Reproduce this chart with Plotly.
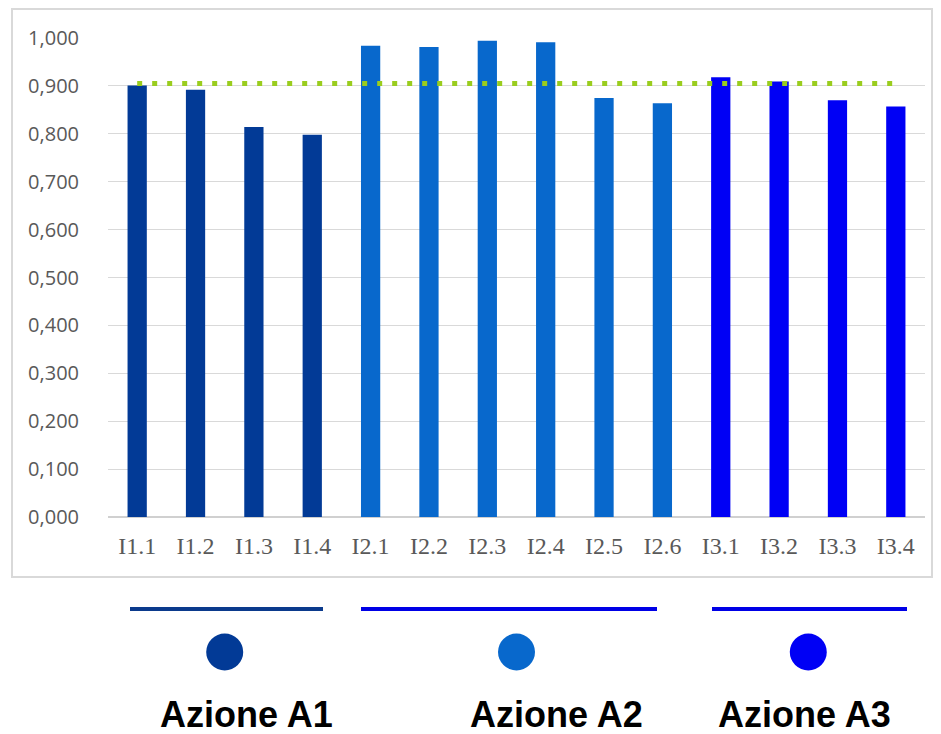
import plotly.graph_objects as go

categories = ["I1.1", "I1.2", "I1.3", "I1.4",
              "I2.1", "I2.2", "I2.3", "I2.4", "I2.5", "I2.6",
              "I3.1", "I3.2", "I3.3", "I3.4"]
values = [0.901, 0.892, 0.814, 0.798,
          0.984, 0.981, 0.994, 0.991, 0.875, 0.864,
          0.918, 0.909, 0.870, 0.857]
threshold = [0.905] * len(categories)

groups = ["Azione A1", "Azione A2", "Azione A3"]
group_sizes = [4, 6, 4]
group_colors = ["#023a96", "#0868cc", "#0000f5"]
group_line_colors = ["#0b3a8c", "#0000e6", "#0000e6"]

W, H = 941, 734
L, R, T, B = 108, 16, 38, 217
PW, PH = W - L - R, H - T - B


def px(x):
    return (x - L) / PW


def py(y):
    return (H - B - y) / PH


bar_colors = []
for c, n in zip(group_colors, group_sizes):
    bar_colors += [c] * n

fig = go.Figure()
fig.add_trace(go.Bar(x=categories, y=values, marker_color=bar_colors,
                     marker_line_width=0, width=0.33, hoverinfo="skip"))
fig.add_trace(go.Scatter(x=categories, y=threshold, mode="lines",
                         line=dict(color="#9acd1e", width=5, dash="5px,10px"),
                         hoverinfo="skip"))

shapes = []
annotations = []
# chart frame
shapes.append(dict(type="rect", xref="paper", yref="paper",
                   x0=px(12), x1=px(932), y0=py(577), y1=py(9),
                   line=dict(color="#d9d9d9", width=2), layer="below"))

# group bands below the chart
band_px = [(130, 323), (361, 657), (712, 907)]
label_px = [246, 556, 804]
start = 0
n_cat = len(categories)
for g, n, c, lc, (bx0, bx1), lx in zip(groups, group_sizes, group_colors,
                                       group_line_colors, band_px, label_px):
    shapes.append(dict(type="line", xref="paper", yref="paper",
                       x0=px(bx0), x1=px(bx1), y0=py(609), y1=py(609),
                       line=dict(color=lc, width=4)))
    center = (start + n / 2) / n_cat
    cx = px(L + center * PW)
    rx = 18.5 / PW
    ry = 18.5 / PH
    shapes.append(dict(type="circle", xref="paper", yref="paper",
                       x0=cx - rx, x1=cx + rx, y0=py(652) - ry, y1=py(652) + ry,
                       fillcolor=c, line=dict(width=0)))
    annotations.append(dict(text="<b>" + g + "</b>", xref="paper", yref="paper",
                            x=px(lx), y=py(714), showarrow=False,
                            xanchor="center", yanchor="middle",
                            font=dict(family="Liberation Sans", size=36, color="black")))
    start += n

fig.update_layout(
    width=W, height=H,
    margin=dict(l=L, r=R, t=T, b=B, pad=0),
    paper_bgcolor="white", plot_bgcolor="white",
    showlegend=False,
    separators=",.",
    shapes=shapes,
    annotations=annotations,
    bargap=0.67,
)
fig.update_yaxes(range=[0, 1.0], dtick=0.1, tickformat=".3f",
                 showgrid=True, gridcolor="#d9d9d9", gridwidth=1,
                 zeroline=True, zerolinecolor="#d0d0d0", zerolinewidth=1.5,
                 ticklabelstandoff=28,
                 tickfont=dict(family="Open Sans", size=20, color="#595959"))
fig.update_xaxes(showgrid=False, ticklabelstandoff=12,
                 tickfont=dict(family="Liberation Serif", size=24, color="#595959"))

fig.write_html("out.html", config={"displayModeBar": False})

# remove the default page margin so the figure sits at the window's corner
with open("out.html", encoding="utf-8") as f:
    html = f.read()
html = html.replace("<head>", "<head><style>html,body{margin:0;padding:0;overflow:hidden}</style>", 1)
with open("out.html", "w", encoding="utf-8") as f:
    f.write(html)
